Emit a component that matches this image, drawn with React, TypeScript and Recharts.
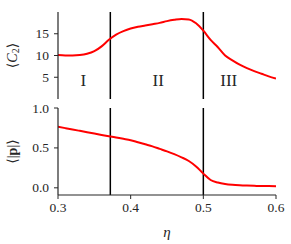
import React from 'react';
import { LineChart, Line, XAxis, YAxis, ReferenceLine, ReferenceDot } from 'recharts';

const eta = [0.30,0.31,0.32,0.33,0.34,0.35,0.36,0.37,0.38,0.39,0.40,0.41,0.42,0.43,0.44,0.45,0.46,0.47,0.48,0.49,0.50,0.51,0.52,0.53,0.54,0.55,0.56,0.57,0.58,0.59,0.60];
const c2 = [10.1,10.0,10.0,10.1,10.4,11.0,12.1,13.6,14.8,15.6,16.2,16.6,16.9,17.2,17.5,17.9,18.2,18.4,18.3,17.4,15.7,13.6,11.9,10.0,8.9,7.9,7.1,6.4,5.8,5.2,4.7];
const pAbs = [0.765,0.748,0.731,0.714,0.697,0.680,0.663,0.646,0.630,0.614,0.597,0.571,0.545,0.519,0.488,0.457,0.422,0.382,0.336,0.268,0.178,0.098,0.066,0.048,0.038,0.032,0.028,0.025,0.023,0.022,0.021];
const xTicks = [0.3, 0.4, 0.5, 0.6];
const c2Ticks = [5, 10, 15];
const pTicks = [0.0, 0.5, 1.0];
const boundaries = [0.372, 0.5];
const regions = [
  { x: 0.335, label: 'I' },
  { x: 0.438, label: 'II' },
  { x: 0.535, label: 'III' },
];

const topData = eta.map((e, i) => ({ eta: e, v: c2[i] }));
const botData = eta.map((e, i) => ({ eta: e, v: pAbs[i] }));

const FONT = '"Liberation Serif", "DejaVu Serif", serif';
const FRAME = '#262626';
const TXT = '#262626';

const YTick = (fmt: (v: number) => string) => (props: any) => {
  const { x, y, payload } = props;
  return (
    <text x={x} y={y} textAnchor="end" dominantBaseline="central"
      style={{ fontFamily: FONT, fontSize: 13.5, fill: TXT }}>{fmt(payload.value)}</text>
  );
};

const XTick = (props: any) => {
  const { x, y, payload } = props;
  return (
    <text x={x} y={y + 6} textAnchor="middle" dominantBaseline="central"
      style={{ fontFamily: FONT, fontSize: 13.5, fill: TXT }}>{Number(payload.value).toFixed(1)}</text>
  );
};

const C2Label = (props: any) => {
  const vb = props.viewBox || {};
  const cx = 12;
  const cy = vb.y + vb.height / 2;
  return (
    <text x={cx} y={cy} transform={`rotate(-90, ${cx}, ${cy})`} textAnchor="middle" dominantBaseline="central"
      style={{ fontFamily: FONT, fontSize: 14, fill: TXT }}>
      <tspan>⟨</tspan><tspan fontStyle="italic">C</tspan><tspan fontSize={10} dy={3}>2</tspan><tspan dy={-3}>⟩</tspan>
    </text>
  );
};

const PLabel = (props: any) => {
  const vb = props.viewBox || {};
  const cx = 12;
  const cy = vb.y + vb.height / 2;
  return (
    <text x={cx} y={cy} transform={`rotate(-90, ${cx}, ${cy})`} textAnchor="middle" dominantBaseline="central"
      style={{ fontFamily: FONT, fontSize: 14, fill: TXT }}>
      <tspan>⟨|</tspan><tspan fontWeight="bold">p</tspan><tspan>|⟩</tspan>
    </text>
  );
};

const EtaLabel = (props: any) => {
  const vb = props.viewBox || {};
  return (
    <text x={vb.x + vb.width / 2} y={vb.y + 37} textAnchor="middle" dominantBaseline="central"
      style={{ fontFamily: FONT, fontSize: 15, fontStyle: 'italic', fill: TXT }}>η</text>
  );
};

const RegionLabel = (text: string) => (props: any) => {
  const vb = props.viewBox || {};
  const x = vb.x + (vb.width || 0) / 2;
  const y = vb.y + (vb.height || 0) / 2;
  return (
    <text x={x} y={y} textAnchor="middle" dominantBaseline="central"
      style={{ fontFamily: FONT, fontSize: 17, fill: TXT }}>{text}</text>
  );
};

export default function App() {
  return (
    <div style={{ position: 'absolute', left: 0, top: 0, width: 291, height: 244, background: '#fff' }}>
      <div style={{ position: 'absolute', left: 0, top: 0 }}>
        <LineChart width={291} height={104} data={topData} margin={{ top: 12, right: 15, left: 0, bottom: 5 }}>
          <XAxis xAxisId="b" dataKey="eta" type="number" domain={[0.3, 0.6]} allowDataOverflow height={0}
            ticks={xTicks} tick={false} tickLine={false} axisLine={{ stroke: FRAME, strokeWidth: 1.2 }} />
          <XAxis xAxisId="t" orientation="top" dataKey="eta" type="number" domain={[0.3, 0.6]} height={0}
            tick={false} tickLine={false} axisLine={{ stroke: FRAME, strokeWidth: 1.2 }} />
          <YAxis yAxisId="l" type="number" domain={[0, 20]} ticks={c2Ticks} width={58} allowDataOverflow interval={0}
            tick={YTick((v) => String(v))} tickSize={4} tickMargin={5} tickLine={{ stroke: FRAME }}
            axisLine={{ stroke: FRAME, strokeWidth: 1.2 }} label={<C2Label />} />
          <YAxis yAxisId="r" orientation="right" type="number" domain={[0, 20]} width={0} tick={false} tickLine={false}
            axisLine={{ stroke: FRAME, strokeWidth: 1.2 }} />
          {boundaries.map((b) => (
            <ReferenceLine key={b} xAxisId="b" yAxisId="l" x={b} stroke="#000" strokeWidth={1.5} />
          ))}
          {regions.map((r) => (
            <ReferenceDot key={r.label} xAxisId="b" yAxisId="l" x={r.x} y={4.25} r={0} fill="none" stroke="none"
              label={RegionLabel(r.label)} />
          ))}
          <Line xAxisId="b" yAxisId="l" dataKey="v" type="monotone" stroke="#ff0000" strokeWidth={2} dot={false} isAnimationActive={false} />
        </LineChart>
      </div>
      <div style={{ position: 'absolute', left: 0, top: 94 }}>
        <LineChart width={291} height={150} data={botData} margin={{ top: 14, right: 15, left: 0, bottom: 0 }}>
          <XAxis xAxisId="b" dataKey="eta" type="number" domain={[0.3, 0.6]} allowDataOverflow height={49} interval={0}
            ticks={xTicks} tick={XTick} tickSize={4} tickMargin={2}
            tickLine={{ stroke: FRAME }} axisLine={{ stroke: FRAME, strokeWidth: 1.2 }} label={<EtaLabel />} />
          <XAxis xAxisId="t" orientation="top" dataKey="eta" type="number" domain={[0.3, 0.6]} height={0}
            tick={false} tickLine={false} axisLine={{ stroke: FRAME, strokeWidth: 1.2 }} />
          <YAxis yAxisId="l" type="number" domain={[-0.09, 1.0]} ticks={pTicks} width={58} allowDataOverflow interval={0}
            tick={YTick((v) => v.toFixed(1))} tickSize={4} tickMargin={5} tickLine={{ stroke: FRAME }}
            axisLine={{ stroke: FRAME, strokeWidth: 1.2 }} label={<PLabel />} />
          <YAxis yAxisId="r" orientation="right" type="number" domain={[-0.09, 1.0]} width={0} tick={false} tickLine={false}
            axisLine={{ stroke: FRAME, strokeWidth: 1.2 }} />
          {boundaries.map((b) => (
            <ReferenceLine key={b} xAxisId="b" yAxisId="l" x={b} stroke="#000" strokeWidth={1.5} />
          ))}
          <Line xAxisId="b" yAxisId="l" dataKey="v" type="monotone" stroke="#ff0000" strokeWidth={2} dot={false} isAnimationActive={false} />
        </LineChart>
      </div>
    </div>
  );
}
